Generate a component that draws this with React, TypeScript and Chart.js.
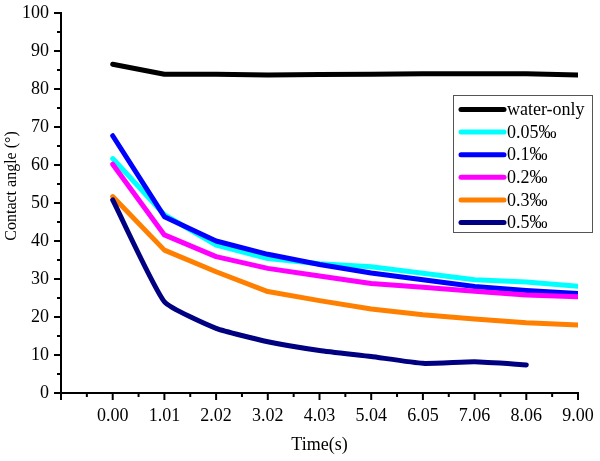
import React, { useEffect, useRef } from "react";
import { Chart, registerables } from "chart.js";

Chart.register(...registerables);

const timeLabels = ["0.00", "1.01", "2.02", "3.02", "4.03", "5.04", "6.05", "7.06", "8.06", "9.00"];
const waterOnly = [86.5, 83.9, 83.9, 83.7, 83.8, 83.9, 84.0, 84.0, 84.0, 83.7];
const c005 = [61.7, 46.9, 38.9, 35.4, 34.0, 33.2, 31.5, 29.8, 29.2, 28.1];
const c01 = [67.7, 46.4, 40.0, 36.5, 33.8, 31.6, 29.8, 28.0, 27.0, 26.2];
const c02 = [60.2, 41.6, 35.9, 32.8, 30.8, 28.8, 27.8, 26.8, 25.8, 25.3];
const c03 = [51.7, 37.6, 31.9, 26.7, 24.3, 22.1, 20.6, 19.5, 18.5, 17.9];
const c05 = [50.8, 24.0, 17.0, 13.5, 11.2, 9.6, 7.8, 8.2, 7.4];

const seriesNames = ["water-only", "0.05‰", "0.1‰", "0.2‰", "0.3‰", "0.5‰"];
const seriesColors = ["#000000", "#00FFFF", "#0000FF", "#FF00FF", "#FF8000", "#000080"];
const seriesData = [waterOnly, c005, c01, c02, c03, c05];
const yTitle = "Contact angle (°)";
const xTitle = "Time(s)";

const FAMILY = "'Liberation Serif', 'Times New Roman', serif";

const decorPlugin = {
  id: "decor",
  afterDraw(chart: any) {
    const ctx = chart.ctx;
    const xs = chart.scales.x;
    const ys = chart.scales.y;
    const area = chart.chartArea;
    ctx.save();
    ctx.strokeStyle = "#000";
    ctx.lineWidth = 2;
    for (let v = -1; v <= 9.001; v += 0.5) {
      const px = xs.getPixelForValue(v);
      const major = Math.abs(v - Math.round(v)) < 1e-6;
      const len = major ? 7 : 4;
      ctx.beginPath();
      ctx.moveTo(px, area.bottom);
      ctx.lineTo(px, area.bottom + len);
      ctx.stroke();
    }
    for (let v = 0; v <= 100.001; v += 5) {
      const py = ys.getPixelForValue(v);
      const major = v % 10 === 0;
      const len = major ? 7 : 4;
      ctx.beginPath();
      ctx.moveTo(area.left, py);
      ctx.lineTo(area.left - len, py);
      ctx.stroke();
    }
    // y title
    ctx.save();
    ctx.font = "normal 16px " + FAMILY;
    ctx.fillStyle = "#000";
    ctx.textAlign = "center";
    ctx.textBaseline = "middle";
    ctx.translate(12, 186);
    ctx.rotate(-Math.PI / 2);
    ctx.fillText(yTitle, 0, 0);
    ctx.restore();
    // x title
    ctx.font = "normal 18px " + FAMILY;
    ctx.fillStyle = "#000";
    ctx.textAlign = "center";
    ctx.textBaseline = "middle";
    ctx.fillText(xTitle, (area.left + area.right) / 2, 445);
    // legend
    const bx = 453, by = 95, bw = 139, bh = 137;
    ctx.fillStyle = "#fff";
    ctx.fillRect(bx, by, bw, bh);
    ctx.lineWidth = 1;
    ctx.strokeStyle = "#555";
    ctx.strokeRect(bx + 0.5, by + 0.5, bw, bh);
    ctx.font = "normal 18px " + FAMILY;
    ctx.textBaseline = "middle";
    ctx.textAlign = "left";
    seriesNames.forEach((name, i) => {
      const y = 109.5 + i * 22.6;
      ctx.strokeStyle = seriesColors[i];
      ctx.lineWidth = 5;
      ctx.lineCap = "round";
      ctx.beginPath();
      ctx.moveTo(461, y);
      ctx.lineTo(504, y);
      ctx.stroke();
      ctx.fillStyle = "#000";
      ctx.fillText(name, 507, y + 1);
    });
    ctx.restore();
  },
};

export default function App() {
  const ref = useRef<HTMLCanvasElement>(null);
  useEffect(() => {
    document.body.style.margin = "0";
    const datasets = seriesData.map((arr, i) => ({
      label: seriesNames[i],
      data: arr.map((v, j) => ({ x: j, y: v })),
      borderColor: seriesColors[i],
      backgroundColor: seriesColors[i],
      borderWidth: 5,
      pointRadius: 0,
      tension: i === 5 ? 0.15 : 0,
      borderCapStyle: "round" as const,
      borderJoinStyle: "round" as const,
      order: 6 - i,
      fill: false,
    }));
    const chart = new Chart(ref.current!, {
      type: "line",
      data: { datasets },
      options: {
        animation: false,
        responsive: false,
        layout: { padding: { left: 0, right: 22, top: 13, bottom: 0 } },
        plugins: { legend: { display: false }, tooltip: { enabled: false } },
        scales: {
          x: {
            type: "linear",
            min: -1,
            max: 9,
            grid: { display: false, drawTicks: false },
            border: { display: true, color: "#000", width: 2 },
            ticks: {
              stepSize: 1,
              autoSkip: false,
              maxRotation: 0,
              padding: 12,
              color: "#000",
              font: { size: 18, family: FAMILY },
              callback: (v: any) => (v >= 0 && v <= 9 ? timeLabels[Math.round(v)] : ""),
            },
            afterFit: (s: any) => { s.height = 68; s.paddingRight = 0; },
          },
          y: {
            min: 0,
            max: 100,
            grid: { display: false, drawTicks: false },
            border: { display: true, color: "#000", width: 2 },
            ticks: { stepSize: 10, padding: 12, color: "#000", font: { size: 18, family: FAMILY } },
            afterFit: (s: any) => { s.width = 61; s.paddingTop = 0; s.paddingBottom = 0; },
          },
        },
      },
      plugins: [decorPlugin],
    });
    return () => chart.destroy();
  }, []);
  return <canvas ref={ref} width={600} height={461} style={{ display: "block" }} />;
}
